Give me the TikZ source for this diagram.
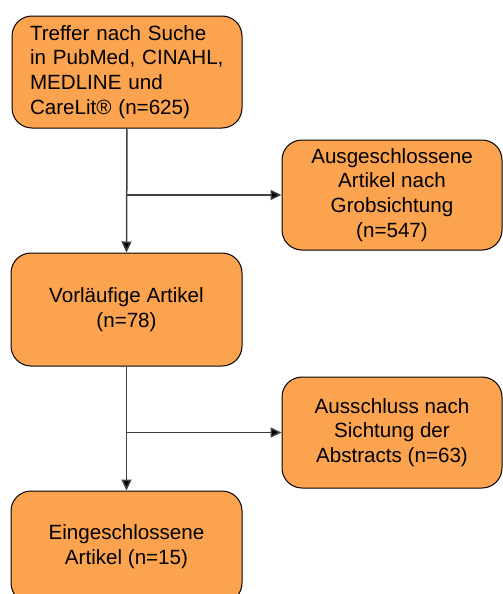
\documentclass[tikz,border=0pt]{standalone}
\usepackage{fontspec}
\setmainfont{Liberation Sans}
\usetikzlibrary{arrows.meta}
\definecolor{boxorange}{RGB}{251,163,78}
\definecolor{linegray}{RGB}{64,64,64}
\tikzset{
  flowbox/.style={draw=black, line width=0.5pt, fill=boxorange, rounded corners=10pt,
    font=\fontsize{10.3}{12.4}\selectfont, align=center, inner sep=0pt},
  flowarrow/.style={draw=linegray, line width=0.75pt, -{Triangle[length=5.5pt,width=5pt,fill=black]}}
}
\begin{document}
\begin{tikzpicture}[x=0.5pt, y=-0.5pt]
      \useasboundingbox (0,0) rectangle (503,594);
      \node[flowbox, minimum width=115pt, minimum height=56pt, text width=97pt, align=left] (hits) at (127,72) {Treffer nach Suche\\in PubMed, CINAHL,\\MEDLINE und\\CareLit® (n=625)};
      \node[flowbox, minimum width=110pt, minimum height=55pt] (grob) at (392,195) {Ausgeschlossene\\Artikel nach\\Grobsichtung\\(n=547)};
      \node[flowbox, minimum width=115.5pt, minimum height=56.5pt] (vorl) at (126.5,309.5) {Vorläufige Artikel\\(n=78)};
      \node[flowbox, minimum width=110pt, minimum height=55.5pt] (abstr) at (392,432.5) {Ausschluss nach\\Sichtung der\\Abstracts (n=63)};
      \node[flowbox, minimum width=115.5pt, minimum height=56pt] (einge) at (126.5,547) {Eingeschlossene\\Artikel (n=15)};
      \draw[flowarrow] (hits.south) -- (vorl.north);
      \draw[flowarrow] (hits.south |- grob.west) -- (grob.west);
      \draw[flowarrow] (vorl.south) -- (einge.north);
      \draw[flowarrow] (vorl.south |- abstr.west) -- (abstr.west);
   \end{tikzpicture}
\end{document}
